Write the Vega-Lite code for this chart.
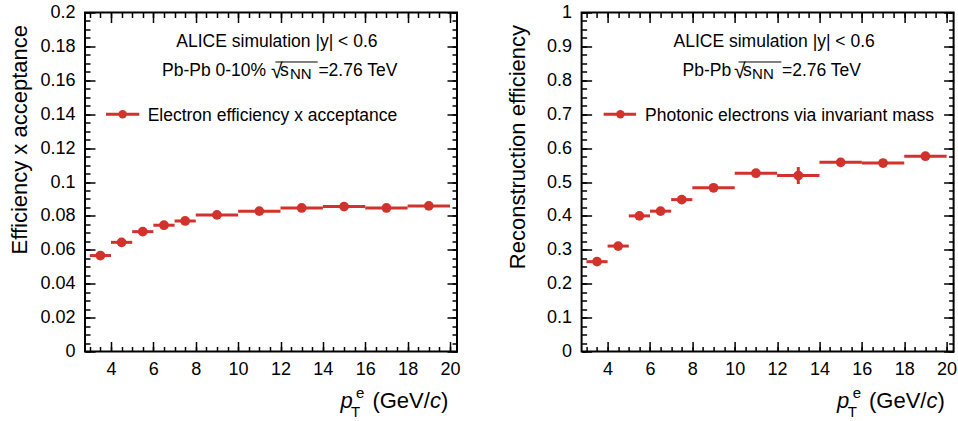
{
  "$schema": "https://vega.github.io/schema/vega-lite/v6.json",
  "padding": {"left": 7, "top": 2.5, "right": 0, "bottom": 0},
  "bounds": "flush",
  "spacing": 124.6,
  "config": {
    "view": {"stroke": "black", "strokeWidth": 2},
    "axis": {"grid": false},
    "font": "Liberation Sans"
  },
  "datasets": {
    "eff": [
      {"xlo": 3, "xhi": 4, "x": 3.5, "v": 0.0566, "lo": 0.0562, "hi": 0.057},
      {"xlo": 4, "xhi": 5, "x": 4.5, "v": 0.0644, "lo": 0.064, "hi": 0.0648},
      {"xlo": 5, "xhi": 6, "x": 5.5, "v": 0.0707, "lo": 0.0703, "hi": 0.0711},
      {"xlo": 6, "xhi": 7, "x": 6.5, "v": 0.0745, "lo": 0.0741, "hi": 0.0749},
      {"xlo": 7, "xhi": 8, "x": 7.5, "v": 0.077, "lo": 0.0766, "hi": 0.0774},
      {"xlo": 8, "xhi": 10, "x": 9, "v": 0.0806, "lo": 0.0802, "hi": 0.081},
      {"xlo": 10, "xhi": 12, "x": 11, "v": 0.0828, "lo": 0.0824, "hi": 0.0832},
      {"xlo": 12, "xhi": 14, "x": 13, "v": 0.0847, "lo": 0.0843, "hi": 0.0851},
      {"xlo": 14, "xhi": 16, "x": 15, "v": 0.0855, "lo": 0.0851, "hi": 0.0859},
      {"xlo": 16, "xhi": 18, "x": 17, "v": 0.0847, "lo": 0.0843, "hi": 0.0851},
      {"xlo": 18, "xhi": 20, "x": 19, "v": 0.0859, "lo": 0.0855, "hi": 0.0863}
    ],
    "rec": [
      {"xlo": 3, "xhi": 4, "x": 3.5, "v": 0.265, "lo": 0.259, "hi": 0.271},
      {"xlo": 4, "xhi": 5, "x": 4.5, "v": 0.311, "lo": 0.305, "hi": 0.317},
      {"xlo": 5, "xhi": 6, "x": 5.5, "v": 0.4, "lo": 0.388, "hi": 0.412},
      {"xlo": 6, "xhi": 7, "x": 6.5, "v": 0.414, "lo": 0.402, "hi": 0.426},
      {"xlo": 7, "xhi": 8, "x": 7.5, "v": 0.448, "lo": 0.436, "hi": 0.46},
      {"xlo": 8, "xhi": 10, "x": 9, "v": 0.483, "lo": 0.477, "hi": 0.489},
      {"xlo": 10, "xhi": 12, "x": 11, "v": 0.526, "lo": 0.52, "hi": 0.532},
      {"xlo": 12, "xhi": 14, "x": 13, "v": 0.519, "lo": 0.494, "hi": 0.544},
      {"xlo": 14, "xhi": 16, "x": 15, "v": 0.558, "lo": 0.552, "hi": 0.564},
      {"xlo": 16, "xhi": 18, "x": 17, "v": 0.556, "lo": 0.55, "hi": 0.562},
      {"xlo": 18, "xhi": 20, "x": 19, "v": 0.576, "lo": 0.57, "hi": 0.582}
    ],
    "one": [{"k": 1}]
  },
  "hconcat": [
    {
      "width": 372,
      "height": 339,
      "resolve": {"axis": {"x": "independent", "y": "independent"}},
      "layer": [
        {
          "data": {"name": "eff"},
          "mark": {"type": "rule", "color": "#d2322c", "strokeWidth": 3},
          "encoding": {
            "x": {"field": "xlo", "type": "quantitative", "scale": {"domain": [2.773, 20.33], "nice": false, "zero": false},
              "axis": {"orient": "bottom", "values": [4, 6, 8, 10, 12, 14, 16, 18, 20], "ticks": false, "domain": false, "labelFont": "Liberation Sans", "labelFontSize": 18, "labelColor": "black", "labelPadding": 9, "labelFlush": false, "labelOverlap": false, "format": "~g", "title": null}},
            "x2": {"field": "xhi"},
            "y": {"field": "v", "type": "quantitative", "scale": {"domain": [0, 0.2], "nice": false, "zero": false},
              "axis": {"orient": "left", "values": [0, 0.02, 0.04, 0.06, 0.08, 0.1, 0.12, 0.14, 0.16, 0.18, 0.2], "ticks": false, "domain": false, "labelFont": "Liberation Sans", "labelFontSize": 18, "labelColor": "black", "labelPadding": 10, "labelFlush": false, "labelOverlap": false, "format": "~g",
                "title": "Efficiency x acceptance", "titleFont": "Liberation Sans", "titleFontSize": 22, "titleFontWeight": "normal", "titleColor": "black", "titleAnchor": "end", "titleY": 12, "titlePadding": 8}}
          }
        },
        {
          "data": {"name": "eff"},
          "mark": {"type": "rule", "color": "#d2322c", "strokeWidth": 3},
          "encoding": {
            "x": {"field": "x", "type": "quantitative", "axis": {"orient": "bottom", "offset": -10, "values": [4, 6, 8, 10, 12, 14, 16, 18, 20], "tickSize": 10, "tickWidth": 1.5, "tickColor": "black", "labels": false, "domain": false, "title": null}},
            "y": {"field": "lo", "type": "quantitative", "axis": {"orient": "left", "offset": -10, "values": [0, 0.02, 0.04, 0.06, 0.08, 0.1, 0.12, 0.14, 0.16, 0.18, 0.2], "tickSize": 10, "tickWidth": 1.5, "tickColor": "black", "labels": false, "domain": false, "title": null}},
            "y2": {"field": "hi"}
          }
        },
        {
          "data": {"name": "eff"},
          "mark": {"type": "point", "filled": true, "size": 95, "color": "#d2322c", "opacity": 1},
          "encoding": {
            "x": {"field": "x", "type": "quantitative", "axis": {"orient": "bottom", "offset": -5, "values": [3, 3.5, 4, 4.5, 5, 5.5, 6, 6.5, 7, 7.5, 8, 8.5, 9, 9.5, 10, 10.5, 11, 11.5, 12, 12.5, 13, 13.5, 14, 14.5, 15, 15.5, 16, 16.5, 17, 17.5, 18, 18.5, 19, 19.5, 20], "tickSize": 5, "tickWidth": 1.5, "tickColor": "black", "labels": false, "domain": false, "title": null}},
            "y": {"field": "v", "type": "quantitative", "axis": {"orient": "left", "offset": -5, "values": [0, 0.005, 0.01, 0.015, 0.02, 0.025, 0.03, 0.035, 0.04, 0.045, 0.05, 0.055, 0.06, 0.065, 0.07, 0.075, 0.08, 0.085, 0.09, 0.095, 0.1, 0.105, 0.11, 0.115, 0.12, 0.125, 0.13, 0.135, 0.14, 0.145, 0.15, 0.155, 0.16, 0.165, 0.17, 0.175, 0.18, 0.185, 0.19, 0.195, 0.2], "tickSize": 5, "tickWidth": 1.5, "tickColor": "black", "labels": false, "domain": false, "title": null}}
          }
        },
        {
          "data": {"name": "one"},
          "mark": {"type": "rule", "color": "#d2322c", "strokeWidth": 3},
          "encoding": {
            "x": {"datum": 3.764, "type": "quantitative", "axis": {"orient": "top", "offset": -10, "values": [4, 6, 8, 10, 12, 14, 16, 18, 20], "tickSize": 10, "tickWidth": 1.5, "tickColor": "black", "labels": false, "domain": false, "title": null}},
            "x2": {"datum": 5.337},
            "y": {"datum": 0.14, "type": "quantitative", "axis": {"orient": "right", "offset": -10, "values": [0, 0.02, 0.04, 0.06, 0.08, 0.1, 0.12, 0.14, 0.16, 0.18, 0.2], "tickSize": 10, "tickWidth": 1.5, "tickColor": "black", "labels": false, "domain": false, "title": null}}
          }
        },
        {
          "data": {"name": "one"},
          "mark": {"type": "point", "filled": true, "size": 70, "color": "#d2322c", "opacity": 1},
          "encoding": {
            "x": {"datum": 4.55, "type": "quantitative", "axis": {"orient": "top", "offset": -5, "values": [3, 3.5, 4, 4.5, 5, 5.5, 6, 6.5, 7, 7.5, 8, 8.5, 9, 9.5, 10, 10.5, 11, 11.5, 12, 12.5, 13, 13.5, 14, 14.5, 15, 15.5, 16, 16.5, 17, 17.5, 18, 18.5, 19, 19.5, 20], "tickSize": 5, "tickWidth": 1.5, "tickColor": "black", "labels": false, "domain": false, "title": null}},
            "y": {"datum": 0.14, "type": "quantitative", "axis": {"orient": "right", "offset": -5, "values": [0, 0.005, 0.01, 0.015, 0.02, 0.025, 0.03, 0.035, 0.04, 0.045, 0.05, 0.055, 0.06, 0.065, 0.07, 0.075, 0.08, 0.085, 0.09, 0.095, 0.1, 0.105, 0.11, 0.115, 0.12, 0.125, 0.13, 0.135, 0.14, 0.145, 0.15, 0.155, 0.16, 0.165, 0.17, 0.175, 0.18, 0.185, 0.19, 0.195, 0.2], "tickSize": 5, "tickWidth": 1.5, "tickColor": "black", "labels": false, "domain": false, "title": null}}
          }
        },
        {
          "data": {"name": "one"},
          "mark": {"type": "text", "text": "Electron efficiency x acceptance", "font": "Liberation Sans", "fontSize": 17.5, "color": "black", "align": "left", "baseline": "alphabetic"},
          "encoding": {"x": {"datum": 5.729, "type": "quantitative", "axis": null}, "y": {"datum": 0.1359, "type": "quantitative", "axis": null}}
        },
        {
          "data": {"name": "one"},
          "mark": {"type": "text", "text": "ALICE simulation |y| < 0.6", "font": "Liberation Sans", "fontSize": 17.5, "color": "black", "align": "center", "baseline": "alphabetic"},
          "encoding": {"x": {"datum": 11.83, "type": "quantitative", "axis": null}, "y": {"datum": 0.1795, "type": "quantitative", "axis": null}}
        },
        {
          "data": {"name": "one"},
          "mark": {"type": "text", "text": "Pb-Pb 0-10%", "font": "Liberation Sans", "fontSize": 17.5, "color": "black", "align": "left", "baseline": "alphabetic"},
          "encoding": {"x": {"datum": 6.408, "type": "quantitative", "axis": null}, "y": {"datum": 0.1623, "type": "quantitative", "axis": null}}
        },
        {
          "data": {"name": "one"},
          "mark": {"type": "text", "text": "√", "font": "Liberation Sans", "fontSize": 21, "color": "black", "align": "left", "baseline": "alphabetic"},
          "encoding": {"x": {"datum": 11.555, "type": "quantitative", "axis": null}, "y": {"datum": 0.1612, "type": "quantitative", "axis": null}}
        },
        {
          "data": {"name": "one"},
          "mark": {"type": "rule", "color": "black", "strokeWidth": 1},
          "encoding": {"x": {"datum": 11.76, "type": "quantitative", "axis": null}, "x2": {"datum": 13.755}, "y": {"datum": 0.1708, "type": "quantitative", "axis": null}}
        },
        {
          "data": {"name": "one"},
          "mark": {"type": "text", "text": "s", "font": "Liberation Sans", "fontSize": 17.5, "color": "black", "align": "left", "baseline": "alphabetic"},
          "encoding": {"x": {"datum": 11.98, "type": "quantitative", "axis": null}, "y": {"datum": 0.1623, "type": "quantitative", "axis": null}}
        },
        {
          "data": {"name": "one"},
          "mark": {"type": "text", "text": "NN", "font": "Liberation Sans", "fontSize": 15, "color": "black", "align": "left", "baseline": "alphabetic"},
          "encoding": {"x": {"datum": 12.443, "type": "quantitative", "axis": null}, "y": {"datum": 0.1609, "type": "quantitative", "axis": null}}
        },
        {
          "data": {"name": "one"},
          "mark": {"type": "text", "text": "=2.76 TeV", "font": "Liberation Sans", "fontSize": 17.5, "color": "black", "align": "left", "baseline": "alphabetic"},
          "encoding": {"x": {"datum": 13.788, "type": "quantitative", "axis": null}, "y": {"datum": 0.1623, "type": "quantitative", "axis": null}}
        },
        {
          "data": {"name": "one"},
          "mark": {"type": "text", "text": "p", "font": "Liberation Sans", "fontSize": 22, "fontStyle": "italic", "color": "black", "align": "left", "baseline": "alphabetic"},
          "encoding": {"x": {"datum": 14.827, "type": "quantitative", "axis": null}, "y": {"datum": -0.0333, "type": "quantitative", "axis": null}}
        },
        {
          "data": {"name": "one"},
          "mark": {"type": "text", "text": "T", "font": "Liberation Sans", "fontSize": 15, "color": "black", "align": "left", "baseline": "alphabetic"},
          "encoding": {"x": {"datum": 15.332, "type": "quantitative", "axis": null}, "y": {"datum": -0.0386, "type": "quantitative", "axis": null}}
        },
        {
          "data": {"name": "one"},
          "mark": {"type": "text", "text": "e", "font": "Liberation Sans", "fontSize": 15, "color": "black", "align": "left", "baseline": "alphabetic"},
          "encoding": {"x": {"datum": 15.568, "type": "quantitative", "axis": null}, "y": {"datum": -0.0274, "type": "quantitative", "axis": null}}
        },
        {
          "data": {"name": "one"},
          "mark": {"type": "text", "text": "(GeV/", "font": "Liberation Sans", "fontSize": 22, "color": "black", "align": "left", "baseline": "alphabetic"},
          "encoding": {"x": {"datum": 16.338, "type": "quantitative", "axis": null}, "y": {"datum": -0.0333, "type": "quantitative", "axis": null}}
        },
        {
          "data": {"name": "one"},
          "mark": {"type": "text", "text": "c", "font": "Liberation Sans", "fontSize": 22, "fontStyle": "italic", "color": "black", "align": "left", "baseline": "alphabetic"},
          "encoding": {"x": {"datum": 19.053, "type": "quantitative", "axis": null}, "y": {"datum": -0.0333, "type": "quantitative", "axis": null}}
        },
        {
          "data": {"name": "one"},
          "mark": {"type": "text", "text": ")", "font": "Liberation Sans", "fontSize": 22, "color": "black", "align": "left", "baseline": "alphabetic"},
          "encoding": {"x": {"datum": 19.572, "type": "quantitative", "axis": null}, "y": {"datum": -0.0333, "type": "quantitative", "axis": null}}
        }
      ]
    },
    {
      "width": 372,
      "height": 339,
      "resolve": {"axis": {"x": "independent", "y": "independent"}},
      "layer": [
        {
          "data": {"name": "rec"},
          "mark": {"type": "rule", "color": "#d2322c", "strokeWidth": 3},
          "encoding": {
            "x": {"field": "xlo", "type": "quantitative", "scale": {"domain": [2.773, 20.33], "nice": false, "zero": false},
              "axis": {"orient": "bottom", "values": [4, 6, 8, 10, 12, 14, 16, 18, 20], "ticks": false, "domain": false, "labelFont": "Liberation Sans", "labelFontSize": 18, "labelColor": "black", "labelPadding": 9, "labelFlush": false, "labelOverlap": false, "format": "~g", "title": null}},
            "x2": {"field": "xhi"},
            "y": {"field": "v", "type": "quantitative", "scale": {"domain": [0, 1], "nice": false, "zero": false},
              "axis": {"orient": "left", "values": [0, 0.1, 0.2, 0.3, 0.4, 0.5, 0.6, 0.7, 0.8, 0.9, 1], "ticks": false, "domain": false, "labelFont": "Liberation Sans", "labelFontSize": 18, "labelColor": "black", "labelPadding": 10, "labelFlush": false, "labelOverlap": false, "format": "~g",
                "title": "Reconstruction efficiency", "titleFont": "Liberation Sans", "titleFontSize": 22, "titleFontWeight": "normal", "titleColor": "black", "titleAnchor": "end", "titleY": 12, "titlePadding": 17}}
          }
        },
        {
          "data": {"name": "rec"},
          "mark": {"type": "rule", "color": "#d2322c", "strokeWidth": 3},
          "encoding": {
            "x": {"field": "x", "type": "quantitative", "axis": {"orient": "bottom", "offset": -10, "values": [4, 6, 8, 10, 12, 14, 16, 18, 20], "tickSize": 10, "tickWidth": 1.5, "tickColor": "black", "labels": false, "domain": false, "title": null}},
            "y": {"field": "lo", "type": "quantitative", "axis": {"orient": "left", "offset": -10, "values": [0, 0.1, 0.2, 0.3, 0.4, 0.5, 0.6, 0.7, 0.8, 0.9, 1], "tickSize": 10, "tickWidth": 1.5, "tickColor": "black", "labels": false, "domain": false, "title": null}},
            "y2": {"field": "hi"}
          }
        },
        {
          "data": {"name": "rec"},
          "mark": {"type": "point", "filled": true, "size": 95, "color": "#d2322c", "opacity": 1},
          "encoding": {
            "x": {"field": "x", "type": "quantitative", "axis": {"orient": "bottom", "offset": -5, "values": [3, 3.5, 4, 4.5, 5, 5.5, 6, 6.5, 7, 7.5, 8, 8.5, 9, 9.5, 10, 10.5, 11, 11.5, 12, 12.5, 13, 13.5, 14, 14.5, 15, 15.5, 16, 16.5, 17, 17.5, 18, 18.5, 19, 19.5, 20], "tickSize": 5, "tickWidth": 1.5, "tickColor": "black", "labels": false, "domain": false, "title": null}},
            "y": {"field": "v", "type": "quantitative", "axis": {"orient": "left", "offset": -5, "values": [0, 0.025, 0.05, 0.075, 0.1, 0.125, 0.15, 0.175, 0.2, 0.225, 0.25, 0.275, 0.3, 0.325, 0.35, 0.375, 0.4, 0.425, 0.45, 0.475, 0.5, 0.525, 0.55, 0.575, 0.6, 0.625, 0.65, 0.675, 0.7, 0.725, 0.75, 0.775, 0.8, 0.825, 0.85, 0.875, 0.9, 0.925, 0.95, 0.975, 1], "tickSize": 5, "tickWidth": 1.5, "tickColor": "black", "labels": false, "domain": false, "title": null}}
          }
        },
        {
          "data": {"name": "one"},
          "mark": {"type": "rule", "color": "#d2322c", "strokeWidth": 3},
          "encoding": {
            "x": {"datum": 3.813, "type": "quantitative", "axis": {"orient": "top", "offset": -10, "values": [4, 6, 8, 10, 12, 14, 16, 18, 20], "tickSize": 10, "tickWidth": 1.5, "tickColor": "black", "labels": false, "domain": false, "title": null}},
            "x2": {"datum": 5.345},
            "y": {"datum": 0.7, "type": "quantitative", "axis": {"orient": "right", "offset": -10, "values": [0, 0.1, 0.2, 0.3, 0.4, 0.5, 0.6, 0.7, 0.8, 0.9, 1], "tickSize": 10, "tickWidth": 1.5, "tickColor": "black", "labels": false, "domain": false, "title": null}}
          }
        },
        {
          "data": {"name": "one"},
          "mark": {"type": "point", "filled": true, "size": 70, "color": "#d2322c", "opacity": 1},
          "encoding": {
            "x": {"datum": 4.603, "type": "quantitative", "axis": {"orient": "top", "offset": -5, "values": [3, 3.5, 4, 4.5, 5, 5.5, 6, 6.5, 7, 7.5, 8, 8.5, 9, 9.5, 10, 10.5, 11, 11.5, 12, 12.5, 13, 13.5, 14, 14.5, 15, 15.5, 16, 16.5, 17, 17.5, 18, 18.5, 19, 19.5, 20], "tickSize": 5, "tickWidth": 1.5, "tickColor": "black", "labels": false, "domain": false, "title": null}},
            "y": {"datum": 0.7, "type": "quantitative", "axis": {"orient": "right", "offset": -5, "values": [0, 0.025, 0.05, 0.075, 0.1, 0.125, 0.15, 0.175, 0.2, 0.225, 0.25, 0.275, 0.3, 0.325, 0.35, 0.375, 0.4, 0.425, 0.45, 0.475, 0.5, 0.525, 0.55, 0.575, 0.6, 0.625, 0.65, 0.675, 0.7, 0.725, 0.75, 0.775, 0.8, 0.825, 0.85, 0.875, 0.9, 0.925, 0.95, 0.975, 1], "tickSize": 5, "tickWidth": 1.5, "tickColor": "black", "labels": false, "domain": false, "title": null}}
          }
        },
        {
          "data": {"name": "one"},
          "mark": {"type": "text", "text": "Photonic electrons via invariant mass", "font": "Liberation Sans", "fontSize": 17.5, "color": "black", "align": "left", "baseline": "alphabetic"},
          "encoding": {"x": {"datum": 5.771, "type": "quantitative", "axis": null}, "y": {"datum": 0.6797, "type": "quantitative", "axis": null}}
        },
        {
          "data": {"name": "one"},
          "mark": {"type": "text", "text": "ALICE simulation |y| < 0.6", "font": "Liberation Sans", "fontSize": 17.5, "color": "black", "align": "center", "baseline": "alphabetic"},
          "encoding": {"x": {"datum": 11.86, "type": "quantitative", "axis": null}, "y": {"datum": 0.8975, "type": "quantitative", "axis": null}}
        },
        {
          "data": {"name": "one"},
          "mark": {"type": "text", "text": "Pb-Pb", "font": "Liberation Sans", "fontSize": 17.5, "color": "black", "align": "left", "baseline": "alphabetic"},
          "encoding": {"x": {"datum": 7.534, "type": "quantitative", "axis": null}, "y": {"datum": 0.8118, "type": "quantitative", "axis": null}}
        },
        {
          "data": {"name": "one"},
          "mark": {"type": "text", "text": "√", "font": "Liberation Sans", "fontSize": 21, "color": "black", "align": "left", "baseline": "alphabetic"},
          "encoding": {"x": {"datum": 9.96, "type": "quantitative", "axis": null}, "y": {"datum": 0.8059, "type": "quantitative", "axis": null}}
        },
        {
          "data": {"name": "one"},
          "mark": {"type": "rule", "color": "black", "strokeWidth": 1},
          "encoding": {"x": {"datum": 10.182, "type": "quantitative", "axis": null}, "x2": {"datum": 12.201}, "y": {"datum": 0.854, "type": "quantitative", "axis": null}}
        },
        {
          "data": {"name": "one"},
          "mark": {"type": "text", "text": "s", "font": "Liberation Sans", "fontSize": 17.5, "color": "black", "align": "left", "baseline": "alphabetic"},
          "encoding": {"x": {"datum": 10.385, "type": "quantitative", "axis": null}, "y": {"datum": 0.8118, "type": "quantitative", "axis": null}}
        },
        {
          "data": {"name": "one"},
          "mark": {"type": "text", "text": "NN", "font": "Liberation Sans", "fontSize": 15, "color": "black", "align": "left", "baseline": "alphabetic"},
          "encoding": {"x": {"datum": 10.82, "type": "quantitative", "axis": null}, "y": {"datum": 0.8044, "type": "quantitative", "axis": null}}
        },
        {
          "data": {"name": "one"},
          "mark": {"type": "text", "text": "=2.76 TeV", "font": "Liberation Sans", "fontSize": 17.5, "color": "black", "align": "left", "baseline": "alphabetic"},
          "encoding": {"x": {"datum": 12.229, "type": "quantitative", "axis": null}, "y": {"datum": 0.8118, "type": "quantitative", "axis": null}}
        },
        {
          "data": {"name": "one"},
          "mark": {"type": "text", "text": "p", "font": "Liberation Sans", "fontSize": 22, "fontStyle": "italic", "color": "black", "align": "left", "baseline": "alphabetic"},
          "encoding": {"x": {"datum": 14.827, "type": "quantitative", "axis": null}, "y": {"datum": -0.1664, "type": "quantitative", "axis": null}}
        },
        {
          "data": {"name": "one"},
          "mark": {"type": "text", "text": "T", "font": "Liberation Sans", "fontSize": 15, "color": "black", "align": "left", "baseline": "alphabetic"},
          "encoding": {"x": {"datum": 15.332, "type": "quantitative", "axis": null}, "y": {"datum": -0.193, "type": "quantitative", "axis": null}}
        },
        {
          "data": {"name": "one"},
          "mark": {"type": "text", "text": "e", "font": "Liberation Sans", "fontSize": 15, "color": "black", "align": "left", "baseline": "alphabetic"},
          "encoding": {"x": {"datum": 15.568, "type": "quantitative", "axis": null}, "y": {"datum": -0.1368, "type": "quantitative", "axis": null}}
        },
        {
          "data": {"name": "one"},
          "mark": {"type": "text", "text": "(GeV/", "font": "Liberation Sans", "fontSize": 22, "color": "black", "align": "left", "baseline": "alphabetic"},
          "encoding": {"x": {"datum": 16.338, "type": "quantitative", "axis": null}, "y": {"datum": -0.1664, "type": "quantitative", "axis": null}}
        },
        {
          "data": {"name": "one"},
          "mark": {"type": "text", "text": "c", "font": "Liberation Sans", "fontSize": 22, "fontStyle": "italic", "color": "black", "align": "left", "baseline": "alphabetic"},
          "encoding": {"x": {"datum": 19.053, "type": "quantitative", "axis": null}, "y": {"datum": -0.1664, "type": "quantitative", "axis": null}}
        },
        {
          "data": {"name": "one"},
          "mark": {"type": "text", "text": ")", "font": "Liberation Sans", "fontSize": 22, "color": "black", "align": "left", "baseline": "alphabetic"},
          "encoding": {"x": {"datum": 19.572, "type": "quantitative", "axis": null}, "y": {"datum": -0.1664, "type": "quantitative", "axis": null}}
        }
      ]
    }
  ]
}
